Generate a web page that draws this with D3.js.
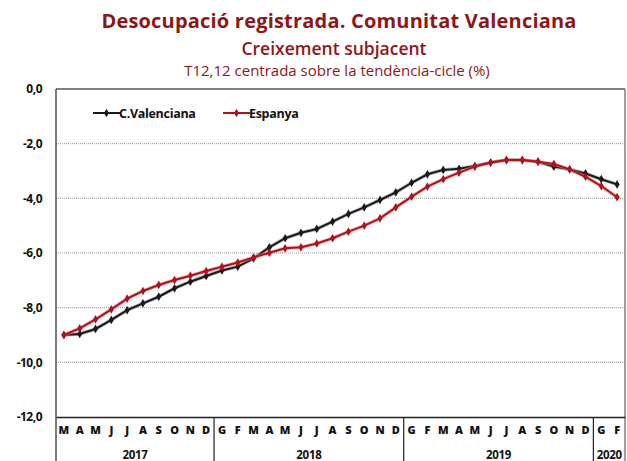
<!DOCTYPE html>
<html>
<head>
<meta charset="utf-8">
<script src="https://cdn.jsdelivr.net/npm/d3@7"></script>
<style>
  body { margin: 0; background: #fff; }
  text { font-family: 'Open Sans', sans-serif; }
</style>
</head>
<body>
<div id="chart"></div>
<script>
// month initials, Mar 2017 .. Feb 2020
const months = ['M','A','M','J','J','A','S','O','N','D',
  'G','F','M','A','M','J','J','A','S','O','N','D',
  'G','F','M','A','M','J','J','A','S','O','N','D',
  'G','F']
const years = [
  { label: '2017', start: 0, end: 10 },
  { label: '2018', start: 10, end: 22 },
  { label: '2019', start: 22, end: 34 },
  { label: '2020', start: 34, end: 36 }
]
const cValenciana = [-9.0, -8.96, -8.78, -8.45, -8.09, -7.84, -7.6, -7.29, -7.05, -6.84,
  -6.64, -6.5, -6.2, -5.79, -5.46, -5.26, -5.12, -4.85, -4.57, -4.33, -4.06, -3.78,
  -3.43, -3.12, -2.96, -2.92, -2.82, -2.69, -2.6, -2.6, -2.66, -2.84, -2.94, -3.09,
  -3.3, -3.49]
const espanya = [-9.0, -8.76, -8.43, -8.06, -7.67, -7.39, -7.17, -6.99, -6.83, -6.66,
  -6.5, -6.35, -6.16, -5.99, -5.83, -5.79, -5.65, -5.46, -5.22, -5.0, -4.73, -4.33,
  -3.94, -3.57, -3.3, -3.06, -2.84, -2.69, -2.6, -2.6, -2.66, -2.74, -2.94, -3.21,
  -3.55, -3.96]
const yTicks = [0, -2, -4, -6, -8, -10, -12]

const width = 627
const height = 461
const margin = { top: 89, left: 56, right: 2, bottom: 44 }
const innerW = width - margin.left - margin.right
const innerH = height - margin.top - margin.bottom
const red = '#b3121b'
const titleRed = '#8f1616'

const svg = d3.select('#chart').append('svg')
  .attr('width', width)
  .attr('height', height)

// titles
svg.append('text').attr('x', 339).attr('y', 28)
  .attr('text-anchor', 'middle').attr('font-size', 20).attr('font-weight', 700)
  .attr('fill', titleRed).attr('letter-spacing', 0.2)
  .text('Desocupació registrada. Comunitat Valenciana')
svg.append('text').attr('x', 334).attr('y', 55)
  .attr('text-anchor', 'middle').attr('font-size', 17.5).attr('font-weight', 600)
  .attr('fill', titleRed)
  .text('Creixement subjacent')
svg.append('text').attr('x', 337).attr('y', 76)
  .attr('text-anchor', 'middle').attr('font-size', 15)
  .attr('fill', titleRed)
  .text('T12,12 centrada sobre la tendència-cicle (%)')

const g = svg.append('g')
  .attr('transform', 'translate(' + margin.left + ',' + margin.top + ')')

const x = d3.scaleBand()
  .domain(d3.range(months.length))
  .range([0, innerW])

const y = d3.scaleLinear()
  .domain([-12, 0])
  .range([innerH, 0])

// gridlines
g.append('g')
  .selectAll('line')
  .data(yTicks.filter(d => d !== 0 && d !== -12))
  .enter().append('line')
  .attr('x1', 0).attr('x2', innerW)
  .attr('y1', d => y(d)).attr('y2', d => y(d))
  .attr('stroke', '#999').attr('stroke-width', 1)
  .attr('stroke-dasharray', '1,1')

// frame top and right (grey)
g.append('line').attr('x1', 0).attr('x2', innerW).attr('y1', 0).attr('y2', 0)
  .attr('stroke', '#808080').attr('stroke-width', 2)
g.append('line').attr('x1', innerW).attr('x2', innerW).attr('y1', 0).attr('y2', height - margin.top)
  .attr('stroke', '#808080').attr('stroke-width', 1.5)

// y axis
const yAxis = d3.axisLeft(y)
  .tickValues(yTicks)
  .tickSize(0)
  .tickPadding(14)
  .tickFormat(d => d3.format('.1f')(d).replace('.', ',').replace('−', '-'))
g.append('g')
  .attr('class', 'axis y-axis')
  .call(yAxis)
  .call(s => s.select('.domain').remove())
  .selectAll('text')
  .attr('font-size', 12).attr('font-weight', 700).attr('fill', '#111')
  .attr('letter-spacing', -0.5)

g.append('line').attr('x1', 0).attr('x2', 0).attr('y1', 0).attr('y2', height - margin.top)
  .attr('stroke', '#222').attr('stroke-width', 1.2)

// x axis
const xAxis = d3.axisBottom(x)
  .tickSize(0)
  .tickPadding(9)
  .tickFormat(i => months[i])
g.append('g')
  .attr('class', 'axis x-axis')
  .attr('transform', 'translate(0,' + innerH + ')')
  .call(xAxis)
  .call(s => s.select('.domain').attr('stroke', '#222').attr('stroke-width', 1.5))
  .selectAll('text')
  .attr('font-size', 11).attr('font-weight', 800).attr('fill', '#111')

// year separators and labels
const step = x.step()
g.append('g')
  .selectAll('line')
  .data(years.slice(1))
  .enter().append('line')
  .attr('x1', d => x(d.start)).attr('x2', d => x(d.start))
  .attr('y1', innerH).attr('y2', height - margin.top)
  .attr('stroke', '#222').attr('stroke-width', 1.2)

g.append('g')
  .selectAll('text')
  .data(years)
  .enter().append('text')
  .attr('x', d => x(d.start) + (d.end - d.start) * step / 2)
  .attr('y', innerH + 42)
  .attr('text-anchor', 'middle')
  .attr('font-size', 11.5).attr('font-weight', 700).attr('fill', '#111')
  .attr('letter-spacing', -0.3)
  .text(d => d.label)

// lines
const line = d3.line()
  .x((d, i) => x(i) + x.bandwidth() / 2)
  .y(d => y(d))

const series = [
  { name: 'C.Valenciana', values: cValenciana, color: '#1a1a1a', halo: '#8a8a8a' },
  { name: 'Espanya', values: espanya, color: red, halo: '#d88a8a' }
]

const diamond = d3.symbol().type(d3.symbolDiamond).size(22)

series.forEach(s => {
  g.append('path').datum(s.values)
    .attr('d', line).attr('fill', 'none')
    .attr('stroke', s.halo).attr('stroke-width', 3.6).attr('stroke-opacity', 0.6)
  g.append('path').datum(s.values)
    .attr('d', line).attr('fill', 'none')
    .attr('stroke', s.color).attr('stroke-width', 2)
  g.append('g').selectAll('path')
    .data(s.values)
    .enter().append('path')
    .attr('d', diamond)
    .attr('transform', (d, i) => 'translate(' + (x(i) + x.bandwidth() / 2) + ',' + y(d) + ')')
    .attr('fill', s.color)
})

// legend
const legend = g.append('g').attr('transform', 'translate(37,24)')
const legendX = [0, 130]
series.forEach((s, i) => {
  const lg = legend.append('g').attr('transform', 'translate(' + legendX[i] + ',0)')
  lg.append('line').attr('x1', 0).attr('x2', 27).attr('y1', 0).attr('y2', 0)
    .attr('stroke', s.color).attr('stroke-width', 2)
  lg.append('path').attr('d', diamond).attr('transform', 'translate(13.5,0)').attr('fill', s.color)
  lg.append('text').attr('x', 26).attr('y', 4.5)
    .attr('font-size', 12.5).attr('font-weight', 700).attr('fill', '#111')
    .attr('letter-spacing', -0.3)
    .text(s.name)
})
</script>
</body>
</html>
